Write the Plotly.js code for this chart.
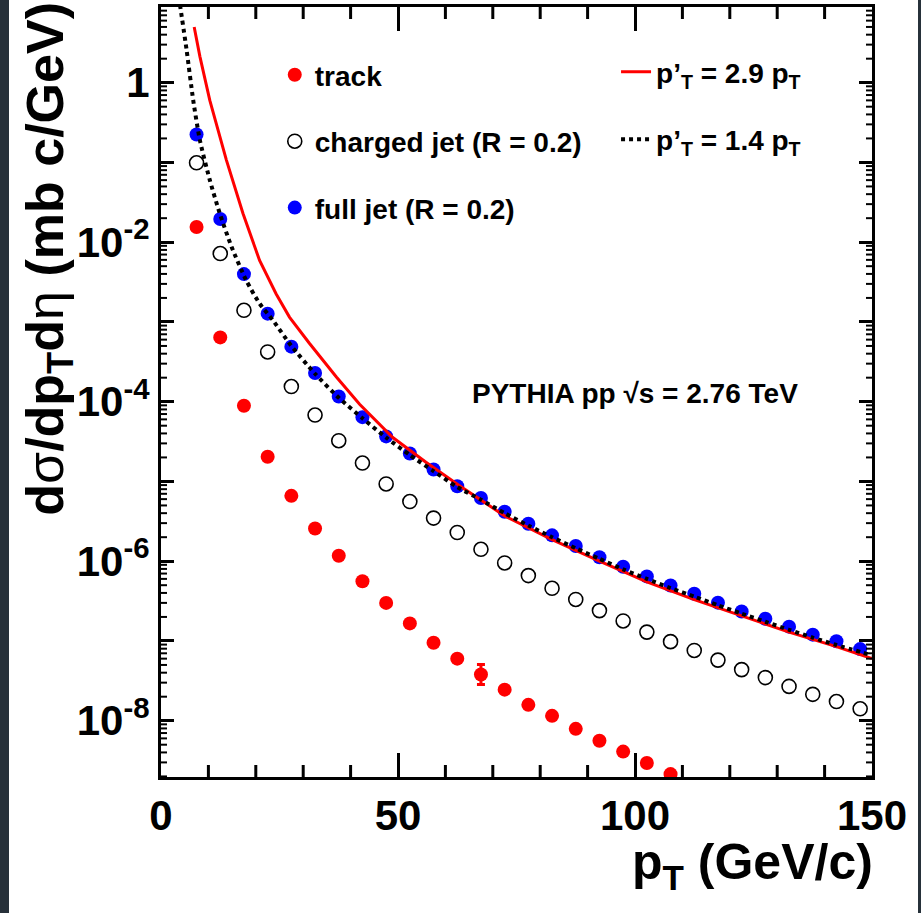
<!DOCTYPE html>
<html>
<head>
<meta charset="utf-8">
<script src="https://cdn.plot.ly/plotly-3.0.1.min.js"></script>
<style>
  html, body { margin: 0; padding: 0; background: #ffffff; }
  #chart { width: 921px; height: 913px; }
  .strip { position: absolute; top: 0; height: 913px; background: #27313a; }
</style>
</head>
<body>
<div id="chart"></div>
<div class="strip" style="left:0;width:9px;"></div>
<div class="strip" style="left:918px;width:3px;"></div>
<script>
// bin centres (GeV/c)
const ptBins = [7.5,12.5,17.5,22.5,27.5,32.5,37.5,42.5,47.5,52.5,57.5,62.5,67.5,72.5,77.5,82.5,87.5,92.5,97.5,102.5,107.5,112.5,117.5,122.5,127.5,132.5,137.5,142.5,147.5];

// track spectrum (mb c/GeV)
const trackPt = ptBins.slice(0, 21);
const trackVals = [0.0155,6.4e-4,8.9e-5,2.04e-5,6.6e-6,2.57e-6,1.17e-6,5.6e-7,3.0e-7,1.66e-7,9.5e-8,6.0e-8,3.8e-8,2.45e-8,1.58e-8,1.15e-8,7.9e-9,5.6e-9,4.1e-9,2.95e-9,2.14e-9];
const trackErrUp   = [0,0,0,0,0,0,0,0,0,0,0,0,1.27e-8,0,0,0,0,0,0,0,0];
const trackErrDown = [0,0,0,0,0,0,0,0,0,0,0,0,0.95e-8,0,0,0,0,0,0,0,0];

// charged jet (R = 0.2)
const chargedVals = [0.0989,7.2e-3,1.40e-3,4.2e-4,1.55e-4,6.8e-5,3.24e-5,1.70e-5,9.3e-6,5.6e-6,3.47e-6,2.29e-6,1.41e-6,9.5e-7,6.6e-7,4.57e-7,3.31e-7,2.4e-7,1.78e-7,1.29e-7,9.8e-8,7.6e-8,5.75e-8,4.37e-8,3.47e-8,2.69e-8,2.14e-8,1.74e-8,1.41e-8];

// full jet (R = 0.2)
const fullVals = [0.224,0.0195,3.98e-3,1.27e-3,4.9e-4,2.29e-4,1.16e-4,6.4e-5,3.67e-5,2.24e-5,1.41e-5,8.7e-6,6.2e-6,4.17e-6,2.95e-6,2.11e-6,1.55e-6,1.12e-6,8.5e-7,6.45e-7,4.95e-7,3.9e-7,3.02e-7,2.34e-7,1.9e-7,1.51e-7,1.2e-7,9.9e-8,7.9e-8];

// scaled track spectrum p'T = 2.9 pT
const scale29Pt   = [7.0,8.2,10.3,12.1,13.8,17.3,20.8,24.3,27.1,31.3,37.0,41.9,48.9,55.9,62.9,72.5,82.5,92.5,102.5,112.5,122.5,132.5,142.5,150];
const scale29Vals = [5.0,2.14,0.60,0.257,0.107,0.0229,5.9e-3,2.24e-3,1.15e-3,5.4e-4,2.04e-4,9.3e-5,3.55e-5,1.74e-5,8.9e-6,3.7e-6,1.86e-6,1.0e-6,5.5e-7,3.3e-7,2.04e-7,1.29e-7,8.5e-8,6.0e-8];

// scaled charged-jet spectrum p'T = 1.4 pT
const scale14Pt   = [4.0,5.4,6.8,8.2,10.3,12.4,14.9,18.0,20.8,23.6,27.5,32.5,37.5,42.5,47.5,52.5,57.5,62.5,67.5,72.5,77.5,82.5,87.5,92.5,97.5,102.5,107.5,112.5,117.5,122.5,127.5,132.5,137.5,142.5,150];
const scale14Vals = [9.5,2.57,0.60,0.19,0.060,0.0229,8.7e-3,3.3e-3,1.7e-3,1.05e-3,5.0e-4,2.24e-4,1.12e-4,6.2e-5,3.55e-5,2.14e-5,1.35e-5,8.5e-6,5.9e-6,4.0e-6,2.8e-6,2.0e-6,1.45e-6,1.07e-6,7.9e-7,6.0e-7,4.6e-7,3.6e-7,2.8e-7,2.2e-7,1.74e-7,1.38e-7,1.1e-7,8.9e-8,6.6e-8];

// y-axis decade ticks and labels
const yTickVals  = [1e-9,1e-8,1e-7,1e-6,1e-5,1e-4,1e-3,1e-2,1e-1,1,10];
const yTickText  = ['', '10<sup>-8</sup>', '', '10<sup>-6</sup>', '', '10<sup>-4</sup>', '', '10<sup>-2</sup>', '', '1', ''];

const xRange = [0, 150];
const yRange = [-8.706, 0.949];
const xTickStep = 50;
const xMinorStep = 10;
const FONT = 'Liberation Sans, Arial, Helvetica, sans-serif';

const W = 921, H = 913;
const M = {l: 161, r: 49, t: 7, b: 136, pad: 0};
const plotW = W - M.l - M.r, plotH = H - M.t - M.b;

// minor tick positions (axis decoration)
const xMinor = [];
for (let v = xRange[0] + xMinorStep; v < xRange[1]; v += xMinorStep) {
  if (v % xTickStep !== 0) xMinor.push(v);
}
const yMinor = [];
yTickVals.forEach(function (d) {
  for (let k = 2; k <= 9; k++) {
    const v = d * k, lv = Math.log10(v);
    if (lv > yRange[0] && lv < yRange[1]) yMinor.push(v);
  }
});

const xMinLen = 12 / plotH;   // paper fraction
const yMinLen = 6 / plotW;
const shapes = [];
xMinor.forEach(function (v) {
  shapes.push({type: 'line', layer: 'above', xref: 'x', yref: 'paper',
               x0: v, x1: v, y0: 0, y1: xMinLen, line: {color: 'black', width: 3}});
  shapes.push({type: 'line', layer: 'above', xref: 'x', yref: 'paper',
               x0: v, x1: v, y0: 1 - xMinLen, y1: 1, line: {color: 'black', width: 3}});
});
yMinor.forEach(function (v) {
  shapes.push({type: 'line', layer: 'above', xref: 'paper', yref: 'y',
               x0: 0, x1: yMinLen, y0: v, y1: v, line: {color: 'black', width: 2}});
  shapes.push({type: 'line', layer: 'above', xref: 'paper', yref: 'y',
               x0: 1 - yMinLen, x1: 1, y0: v, y1: v, line: {color: 'black', width: 2}});
});

const traces = [
  {
    x: trackPt, y: trackVals, type: 'scatter', mode: 'markers',
    name: 'track', legend: 'legend', legendgroup: 'g1',
    marker: {symbol: 'circle', size: 14, color: 'rgb(255,0,0)'},
    error_y: {type: 'data', symmetric: false, array: trackErrUp, arrayminus: trackErrDown,
              color: 'rgb(255,0,0)', thickness: 3, width: 4}
  },
  {
    x: ptBins, y: chargedVals, type: 'scatter', mode: 'markers',
    name: 'charged jet (R = 0.2)', legend: 'legend', legendgroup: 'g2',
    marker: {symbol: 'circle-open', size: 14, color: 'black', line: {width: 1.6, color: 'black'}}
  },
  {
    x: ptBins, y: fullVals, type: 'scatter', mode: 'markers',
    name: 'full jet (R = 0.2)', legend: 'legend', legendgroup: 'g3',
    marker: {symbol: 'circle', size: 14, color: 'rgb(0,0,255)'}
  },
  {
    x: scale29Pt, y: scale29Vals, type: 'scatter', mode: 'lines',
    name: 'p\u2019<sub>T</sub> = 2.9 p<sub>T</sub>', legend: 'legend2', legendgroup: 'g4',
    line: {color: 'rgb(255,0,0)', width: 3}
  },
  {
    x: scale14Pt, y: scale14Vals, type: 'scatter', mode: 'lines',
    name: 'p\u2019<sub>T</sub> = 1.4 p<sub>T</sub>', legend: 'legend2', legendgroup: 'g5',
    line: {color: 'black', width: 4, dash: 'dot', shape: 'spline', smoothing: 0.6}
  }
];

const axisCommon = {
  showline: true, linecolor: 'black', linewidth: 3, mirror: 'ticks',
  ticks: 'inside', tickcolor: 'black', showgrid: false, zeroline: false,
};

const layout = {
  width: W, height: H,
  margin: M,
  paper_bgcolor: 'white', plot_bgcolor: 'white',
  font: {family: FONT, color: 'black', weight: 'bold'},
  showlegend: true,
  xaxis: Object.assign({}, axisCommon, {
    range: xRange, tickmode: 'linear', tick0: 0, dtick: xTickStep,
    ticklen: 24, tickwidth: 3,
    tickfont: {size: 42, family: FONT, weight: 'bold'}
  }),
  yaxis: Object.assign({}, axisCommon, {
    type: 'log', range: yRange, tickmode: 'array', tickvals: yTickVals, ticktext: yTickText,
    ticklen: 13, tickwidth: 3,
    tickfont: {size: 42, family: FONT, weight: 'bold'}
  }),
  shapes: shapes,
  legend: {
    x: 0.16, xanchor: 'left', y: 0.944, yanchor: 'top',
    bgcolor: 'rgba(0,0,0,0)', borderwidth: 0, traceorder: 'grouped', tracegroupgap: 27,
    font: {size: 28, family: FONT, weight: 'bold', color: 'black'}
  },
  legend2: {
    x: 0.64, xanchor: 'left', y: 0.948, yanchor: 'top',
    bgcolor: 'rgba(0,0,0,0)', borderwidth: 0, traceorder: 'grouped', tracegroupgap: 28,
    font: {size: 28, family: FONT, weight: 'bold', color: 'black'}
  },
  annotations: [
    {
      xref: 'paper', yref: 'paper', x: 0.4346, y: 0.4987, xanchor: 'left', yanchor: 'middle',
      text: 'PYTHIA pp \u221As = 2.76 TeV', showarrow: false,
      font: {size: 28, family: FONT, weight: 'bold', color: 'black'}
    },
    {
      xref: 'paper', yref: 'paper', x: 1.004, y: -0.115, xanchor: 'right', yanchor: 'middle',
      text: 'p<sub>T</sub> (GeV/c)', showarrow: false,
      font: {size: 50, family: FONT, weight: 'bold', color: 'black'}
    },
    {
      xref: 'paper', yref: 'paper', x: -0.158, y: 1.009, xanchor: 'center', yanchor: 'top',
      textangle: -90,
      text: 'd<span style="font-weight:normal">\u03C3</span>/dp<sub>T</sub>d<span style="font-weight:normal">\u03B7</span> (mb c/GeV)',
      showarrow: false,
      font: {size: 52, family: FONT, weight: 'bold', color: 'black'}
    }
  ]
};

Plotly.newPlot('chart', traces, layout, {displayModeBar: false, staticPlot: true});
</script>
</body>
</html>
